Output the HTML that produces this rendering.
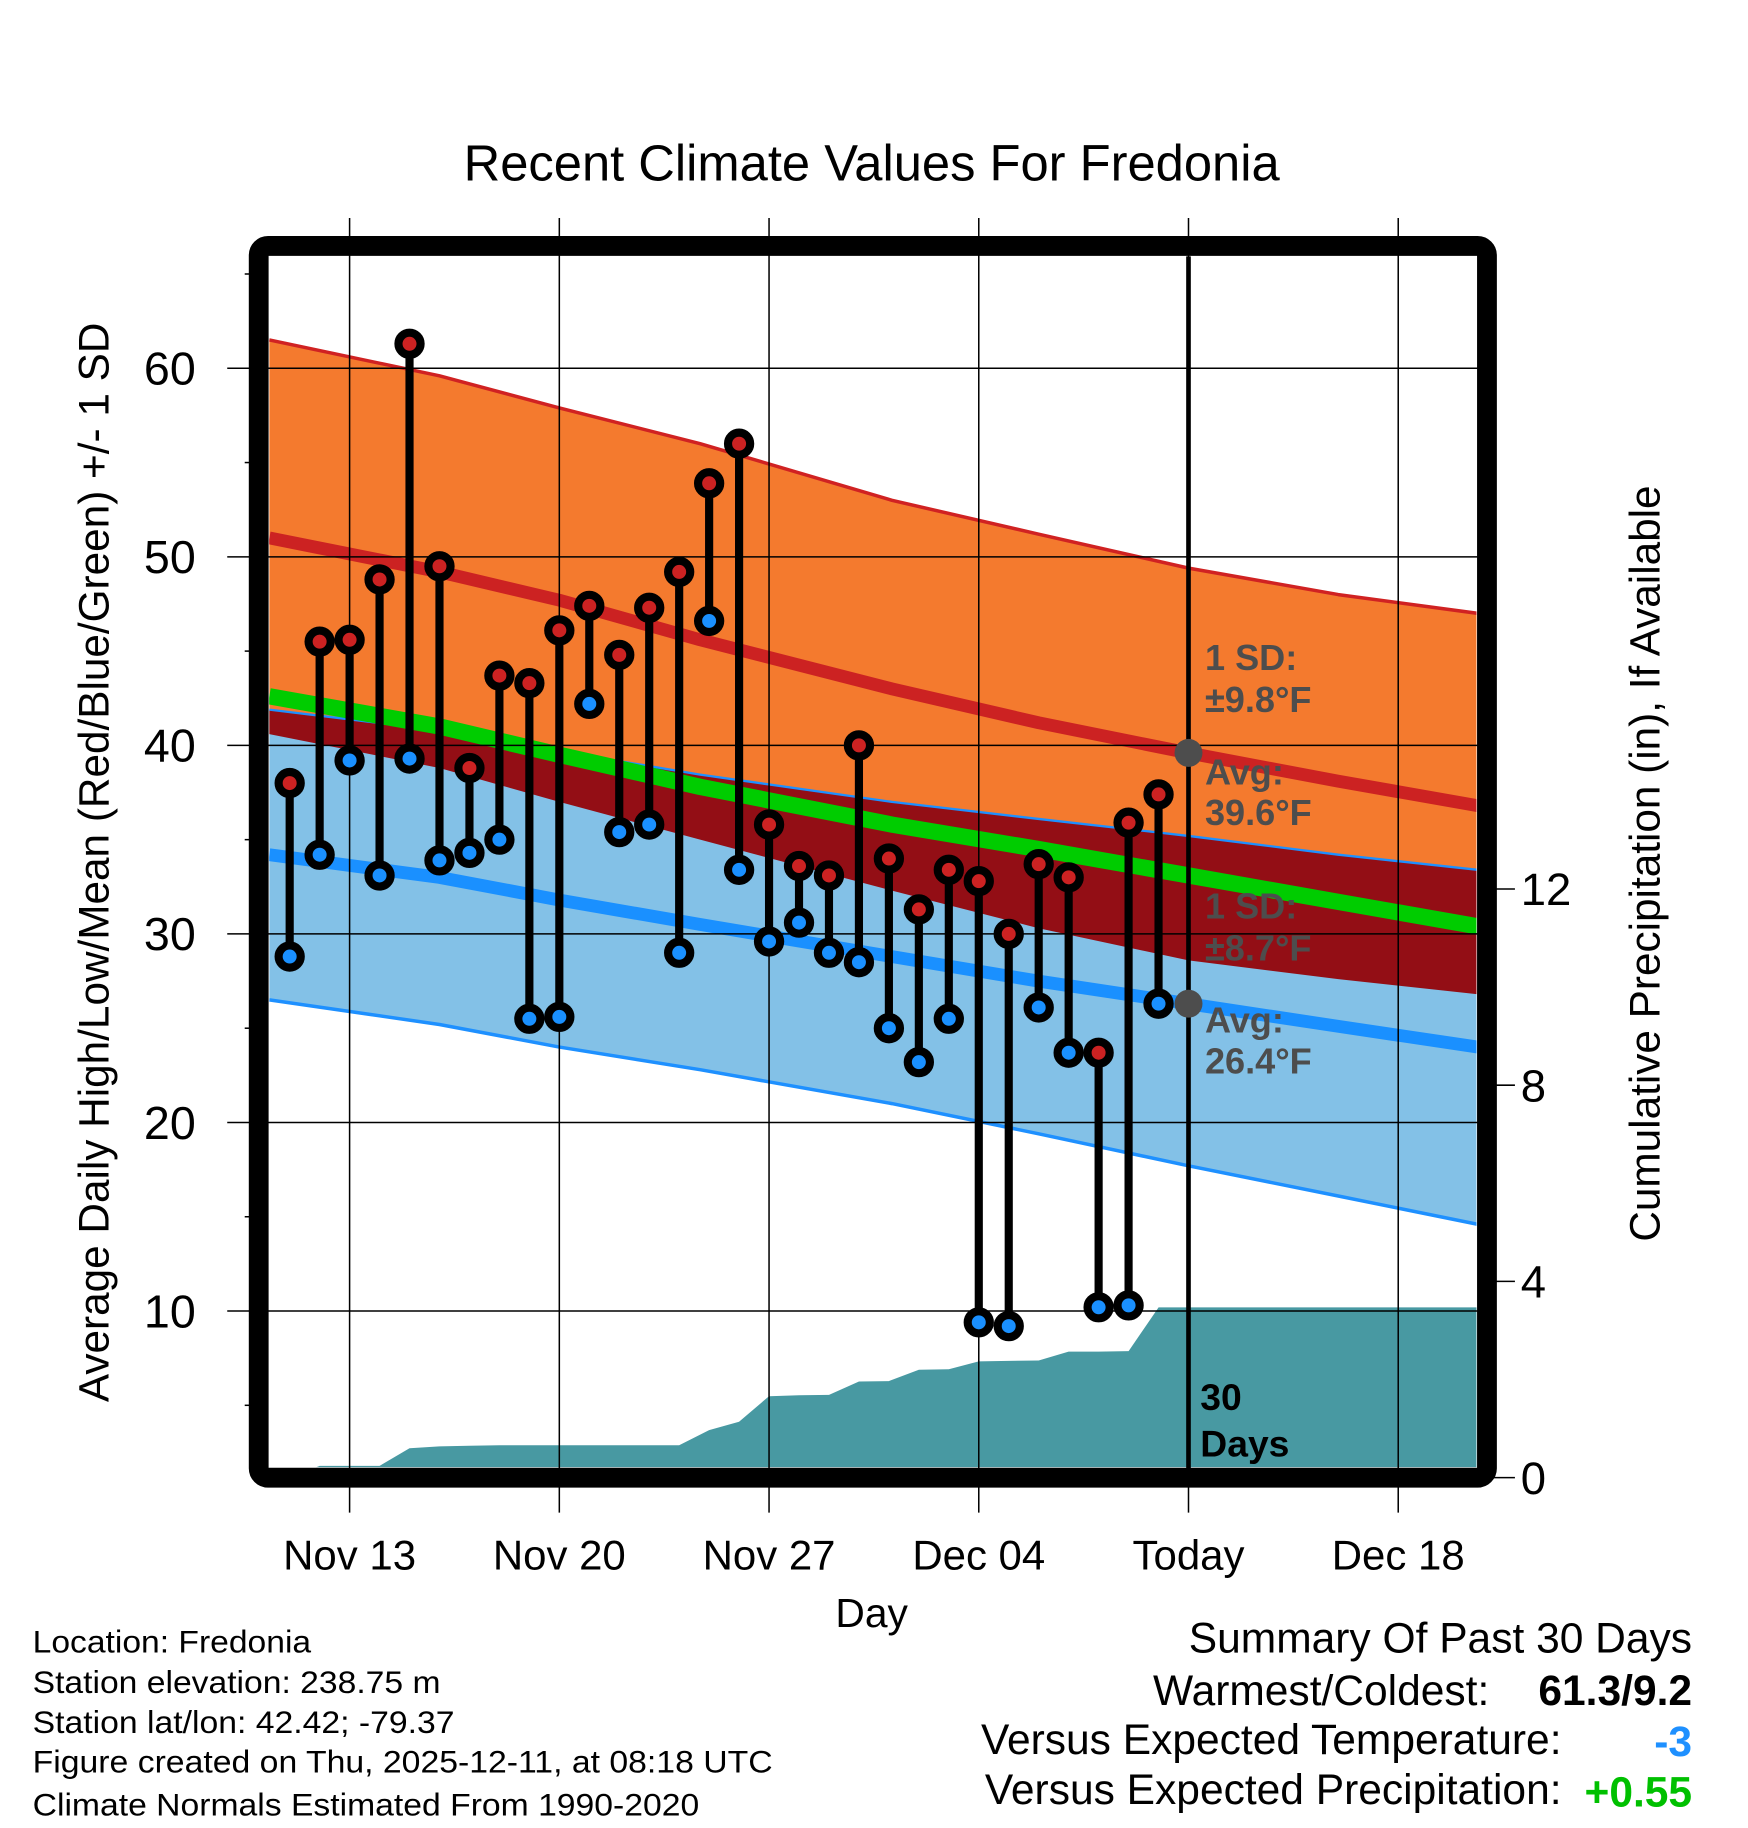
<!DOCTYPE html>
<html><head><meta charset="utf-8"><title>Recent Climate Values For Fredonia</title>
<style>html,body{margin:0;padding:0;background:#fff}svg{display:block}text{font-family:"Liberation Sans",Arial,sans-serif}</style>
</head><body>
<svg id="chart" xmlns="http://www.w3.org/2000/svg" width="1748" height="1828" viewBox="0 0 1500 1568.6">
<defs><clipPath id="plotclip"><rect x="231" y="220" width="1036" height="1039"/></clipPath></defs>
<rect x="0" y="0" width="1500" height="1568.6" fill="#fff"/>
<text x="748" y="155" font-size="43.5" text-anchor="middle">Recent Climate Values For Fredonia</text>
<g id="bands" clip-path="url(#plotclip)"></g>
<g id="grid"></g>
<g id="marks" clip-path="url(#plotclip)"></g>
<g id="annot"></g>
<rect x="222" y="211" width="1054" height="1057" rx="8" fill="none" stroke="#000" stroke-width="17"/>
<g id="axes"></g>
<text transform="translate(93,740) rotate(-90)" font-size="36.3" text-anchor="middle">Average Daily High/Low/Mean (Red/Blue/Green) +/- 1 SD</text>
<text transform="translate(1424,741) rotate(-90)" font-size="36.3" text-anchor="middle">Cumulative Precipitation (in), If Available</text>
<text x="748" y="1396" font-size="35" text-anchor="middle">Day</text>
<g font-size="27">
<text x="28" y="1418" textLength="239" lengthAdjust="spacingAndGlyphs">Location: Fredonia</text>
<text x="28" y="1453" textLength="350" lengthAdjust="spacingAndGlyphs">Station elevation: 238.75 m</text>
<text x="28" y="1487" textLength="362" lengthAdjust="spacingAndGlyphs">Station lat/lon: 42.42; -79.37</text>
<text x="28" y="1521" textLength="635" lengthAdjust="spacingAndGlyphs">Figure created on Thu, 2025-12-11, at 08:18 UTC</text>
<text x="28" y="1558" textLength="572" lengthAdjust="spacingAndGlyphs">Climate Normals Estimated From 1990-2020</text>
</g>
<g font-size="36.5">
<text x="1452" y="1418" text-anchor="end">Summary Of Past 30 Days</text>
<text x="1278" y="1463" text-anchor="end">Warmest/Coldest:</text>
<text x="1452" y="1463" text-anchor="end" font-weight="bold">61.3/9.2</text>
<text x="1340" y="1505" text-anchor="end">Versus Expected Temperature:</text>
<text x="1452" y="1507" text-anchor="end" font-weight="bold" fill="#1e90ff">-3</text>
<text x="1340" y="1548" text-anchor="end">Versus Expected Precipitation:</text>
<text x="1452" y="1550" text-anchor="end" font-weight="bold" fill="#00c000">+0.55</text>
</g>
</svg>
<script>
// ---- data ----
const normDays = [-2.68, 3, 7, 11.7, 18.1, 23, 28, 33, 37.65];
const hiUp   = [61.5, 59.6, 57.9, 56.0, 53.0, 51.2, 49.4, 48.0, 47.0];
const hiMean = [51.0, 49.2, 47.7, 45.6, 43.0, 41.2, 39.6, 38.1, 36.8];
const hiDn   = [40.6, 38.8, 37.0, 35.0, 32.3, 30.3, 28.6, 27.6, 26.8];
const loUp   = [41.9, 40.8, 39.7, 38.45, 37.0, 36.1, 35.2, 34.2, 33.4];
const avgMean= [42.6, 41.0, 39.5, 37.8, 35.8, 34.5, 33.1, 31.7, 30.4];
const loMean = [34.2, 33.0, 31.8, 30.5, 28.8, 27.5, 26.3, 25.1, 24.0];
const loDn   = [26.5, 25.2, 24.0, 22.8, 21.0, 19.4, 17.7, 16.1, 14.6];
const obsDays = [-2,-1,0,1,2,3,4,5,6,7,8,9,10,11,12,13,14,15,16,17,18,19,20,21,22,23,24,25,26,27];
const highs = [38.0,45.5,45.6,48.8,61.3,49.5,38.8,43.7,43.3,46.1,47.4,44.8,47.3,49.2,53.9,56.0,35.8,33.6,33.1,40.0,34.0,31.3,33.4,32.8,30.0,33.7,33.0,23.7,35.9,37.4];
const lows  = [28.8,34.2,39.2,33.1,39.3,33.9,34.3,35.0,25.5,25.6,42.2,35.4,35.8,29.0,46.6,33.4,29.6,30.6,29.0,28.5,25.0,23.2,25.5,9.4,9.2,26.1,23.7,10.2,10.3,26.3];
const precip = [0.0,0.24,0.24,0.24,0.60,0.64,0.65,0.66,0.66,0.66,0.66,0.66,0.66,0.66,0.97,1.14,1.66,1.68,1.69,1.96,1.97,2.20,2.21,2.37,2.38,2.39,2.57,2.57,2.58,3.47];
const xTickDays = [0,7,14,21,28,35];
const xTickLabels = ["Nov 13","Nov 20","Nov 27","Dec 04","Today","Dec 18"];
const yTicks = [10,20,30,40,50,60];
const yMinor = [5,15,25,35,45,55,65];
const y2Ticks = [0,4,8,12];
const todayDay = 28;
// ---- scales ----
const xS = d => 300 + d*25.71;
const yS = v => 316 + (60 - v)*16.18;
const y2S = p => 1268 - p*42.1;
const X0 = 231, X1 = 1267;
const NS = 'http://www.w3.org/2000/svg';
function mk(tag, attrs, parent){const e=document.createElementNS(NS,tag);for(const k in attrs)e.setAttribute(k,attrs[k]);parent.appendChild(e);return e;}
const bands=document.getElementById('bands'), grid=document.getElementById('grid'), marks=document.getElementById('marks'), annot=document.getElementById('annot'), axes=document.getElementById('axes');
function pts(arr){return normDays.map((d,i)=>xS(d).toFixed(1)+','+yS(arr[i]).toFixed(1));}
function area(top,bot){return pts(top).concat(pts(bot).reverse()).join(' ');}
let e;
e=mk('polygon',{points:area(hiUp,hiDn),fill:'#f47a2e'},bands);


e=mk('polygon',{points:area(loUp,loDn),fill:'#83c1e7'},bands);


e=mk('polygon',{points:area(loUp,hiDn),fill:'#930e15'},bands);


function line(arr,col,w){return mk('polyline',{points:pts(arr).join(' '),fill:'none',stroke:col,'stroke-width':w,'stroke-linejoin':'round'},bands);}
e=line(hiUp,'#d02222',3);


e=line(hiMean,'#cc2222',11);


e=line(loUp,'#1e90ff',2);


e=line(loDn,'#1e90ff',3);


e=line(loMean,'#1a90ff',11);


e=line(avgMean,'#00cc00',14);


// precipitation area
let pp=[xS(obsDays[0])+','+y2S(0)];
obsDays.forEach((d,i)=>pp.push(xS(d).toFixed(1)+','+y2S(precip[i]).toFixed(1)));
pp.push(X1+','+y2S(precip[precip.length-1]).toFixed(1));
pp.push(X1+','+y2S(0));
e=mk('polygon',{points:pp.join(' '),fill:'#4899a2'},bands);


// grid
xTickDays.forEach((d,i)=>{const x=xS(d);const isT=d===todayDay;
 e=mk('line',{x1:x,y1:187,x2:x,y2:1298,stroke:'#000','stroke-width':1.3},grid);
 
 
 if(isT){
  e=mk('line',{x1:x,y1:220,x2:x,y2:1260,stroke:'#000','stroke-width':4},grid);
  
  
 }
 e=mk('text',{x:x,y:1347,'font-size':36,'text-anchor':'middle'},axes);e.textContent=xTickLabels[i];
 
 
});
yTicks.forEach(v=>{const y=yS(v);
 e=mk('line',{x1:195,y1:y,x2:1276,y2:y,stroke:'#000','stroke-width':1.3},grid);
 
 
 e=mk('text',{x:168,y:y+14,'font-size':40,'text-anchor':'end'},axes);e.textContent=v;
 
 
});
yMinor.forEach(v=>{const y=yS(v);
 e=mk('line',{x1:210,y1:y,x2:222,y2:y,stroke:'#000','stroke-width':1.3},axes);
 
 
});
y2Ticks.forEach(p=>{const y=y2S(p);
 e=mk('line',{x1:1276,y1:y,x2:1300,y2:y,stroke:'#000','stroke-width':1.3},axes);
 
 
 e=mk('text',{x:1305,y:y+14,'font-size':39},axes);e.textContent=p;
 
 
});
// observations
obsDays.forEach((d,i)=>{const x=xS(d),yh=yS(highs[i]),yl=yS(lows[i]);
 e=mk('line',{x1:x,y1:yh,x2:x,y2:yl,stroke:'#000','stroke-width':7},marks);
 
 
 e=mk('circle',{cx:x,cy:yl,r:9.5,fill:'#1a90ff',stroke:'#000','stroke-width':7},marks);
 
 
 e=mk('circle',{cx:x,cy:yh,r:9.5,fill:'#cc2222',stroke:'#000','stroke-width':7},marks);
 
 
});
// annotations
const hiT=hiMean[6], loT=loMean[6];
e=mk('circle',{cx:xS(todayDay),cy:yS(hiT),r:12,fill:'#4d4d4d'},annot);


e=mk('circle',{cx:xS(todayDay),cy:yS(loT),r:12,fill:'#4d4d4d'},annot);


const ann=[["1 SD:",575],["±9.8°F",611],["Avg:",673],["39.6°F",708],["1 SD:",788],["±8.7°F",824],["Avg:",886],["26.4°F",921]];
ann.forEach(a=>{e=mk('text',{x:1034,y:a[1],'font-size':31,'font-weight':'bold',fill:'#4d4d4d'},annot);e.textContent=a[0];
 
 });
e=mk('text',{x:1030,y:1210,'font-size':32,'font-weight':'bold'},annot);e.textContent='30';


e=mk('text',{x:1030,y:1250,'font-size':32,'font-weight':'bold'},annot);e.textContent='Days';


</script>
</body></html>
